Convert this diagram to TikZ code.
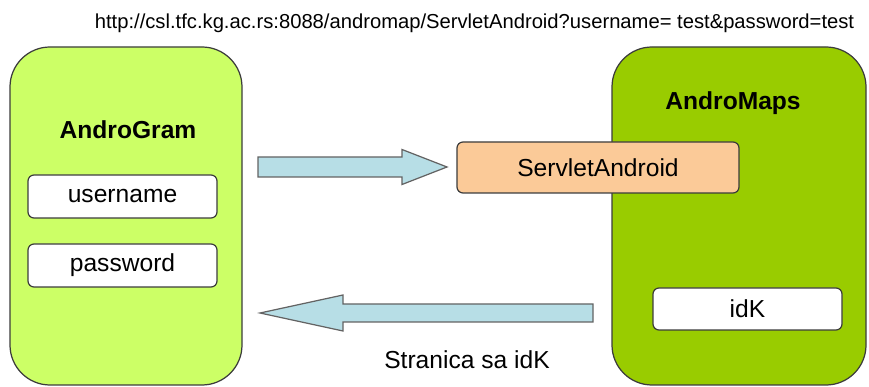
\documentclass[tikz,border=0pt]{standalone}
\usepackage{fontspec}
\setmainfont{Liberation Sans}
\usepackage{tikz}
\usetikzlibrary{positioning}

\definecolor{gramgreen}{RGB}{204,255,102}
\definecolor{mapsgreen}{RGB}{153,204,0}
\definecolor{servletpeach}{RGB}{251,202,152}
\definecolor{arrowblue}{RGB}{183,222,230}
\definecolor{edgegray}{RGB}{60,60,60}

\tikzset{
	appbox/.style = {draw = edgegray, line width = 0.7pt, rounded corners = 0.8cm, inner sep = 0pt},
	fieldbox/.style = {draw = edgegray, line width = 0.7pt, fill = white, rounded corners = 0.12cm,
		minimum width = 3.78cm, minimum height = 0.86cm, font = \fontsize{14}{16}\selectfont},
	fatarrow/.style = {draw = edgegray!80, line width = 0.7pt, fill = arrowblue, line join = miter}
}

\begin{document}
\begin{tikzpicture}
	\useasboundingbox (0,0) rectangle (17.38,7.74);

	\node [appbox, fill = gramgreen, minimum width = 4.64cm, minimum height = 6.76cm] (gram) at (2.52,3.42) {};
	\node [appbox, fill = mapsgreen, minimum width = 5.08cm, minimum height = 6.76cm] (maps) at (14.78,3.42) {};

	\node [font = \bfseries\fontsize{14}{16}\selectfont] (gramtitle) at (2.56,5.14) {AndroGram};
	\node [font = \bfseries\fontsize{14}{16}\selectfont] (mapstitle) at (14.66,5.68) {AndroMaps};

	\node [fieldbox] (user) at (2.45,3.81) {username};
	\node [fieldbox] (pass) at (2.45,2.43) {password};
	\node [fieldbox, minimum height = 0.84cm] (idk) at (14.95,1.56) {idK};

	\node [fieldbox, fill = servletpeach, minimum width = 5.64cm, minimum height = 1.02cm] (servlet) at (11.96,4.39) {ServletAndroid};

	\coordinate (reqstart) at (5.16,4.4);
	\coordinate (respstart) at (5.2,1.48);

	\draw [fatarrow, shift = {(reqstart)}] (0,0.2) -- (2.88,0.2) -- (2.88,0.35) -- (3.78,0)
		-- (2.88,-0.35) -- (2.88,-0.2) -- (0,-0.2) -- cycle;
	\draw [fatarrow, shift = {(respstart)}] (0,0) -- (1.66,0.36) -- (1.66,0.18) -- (6.66,0.18)
		-- (6.66,-0.18) -- (1.66,-0.18) -- (1.66,-0.36) -- cycle;

	\node [font = \fontsize{11.5}{13}\selectfont] (url) at (9.49,7.28) {http://csl.tfc.kg.ac.rs:8088/andromap/ServletAndroid?username= test\&password=test};
	\node [font = \fontsize{14}{16}\selectfont] (resplabel) at (9.34,0.54) {Stranica sa idK};
\end{tikzpicture}
\end{document}
